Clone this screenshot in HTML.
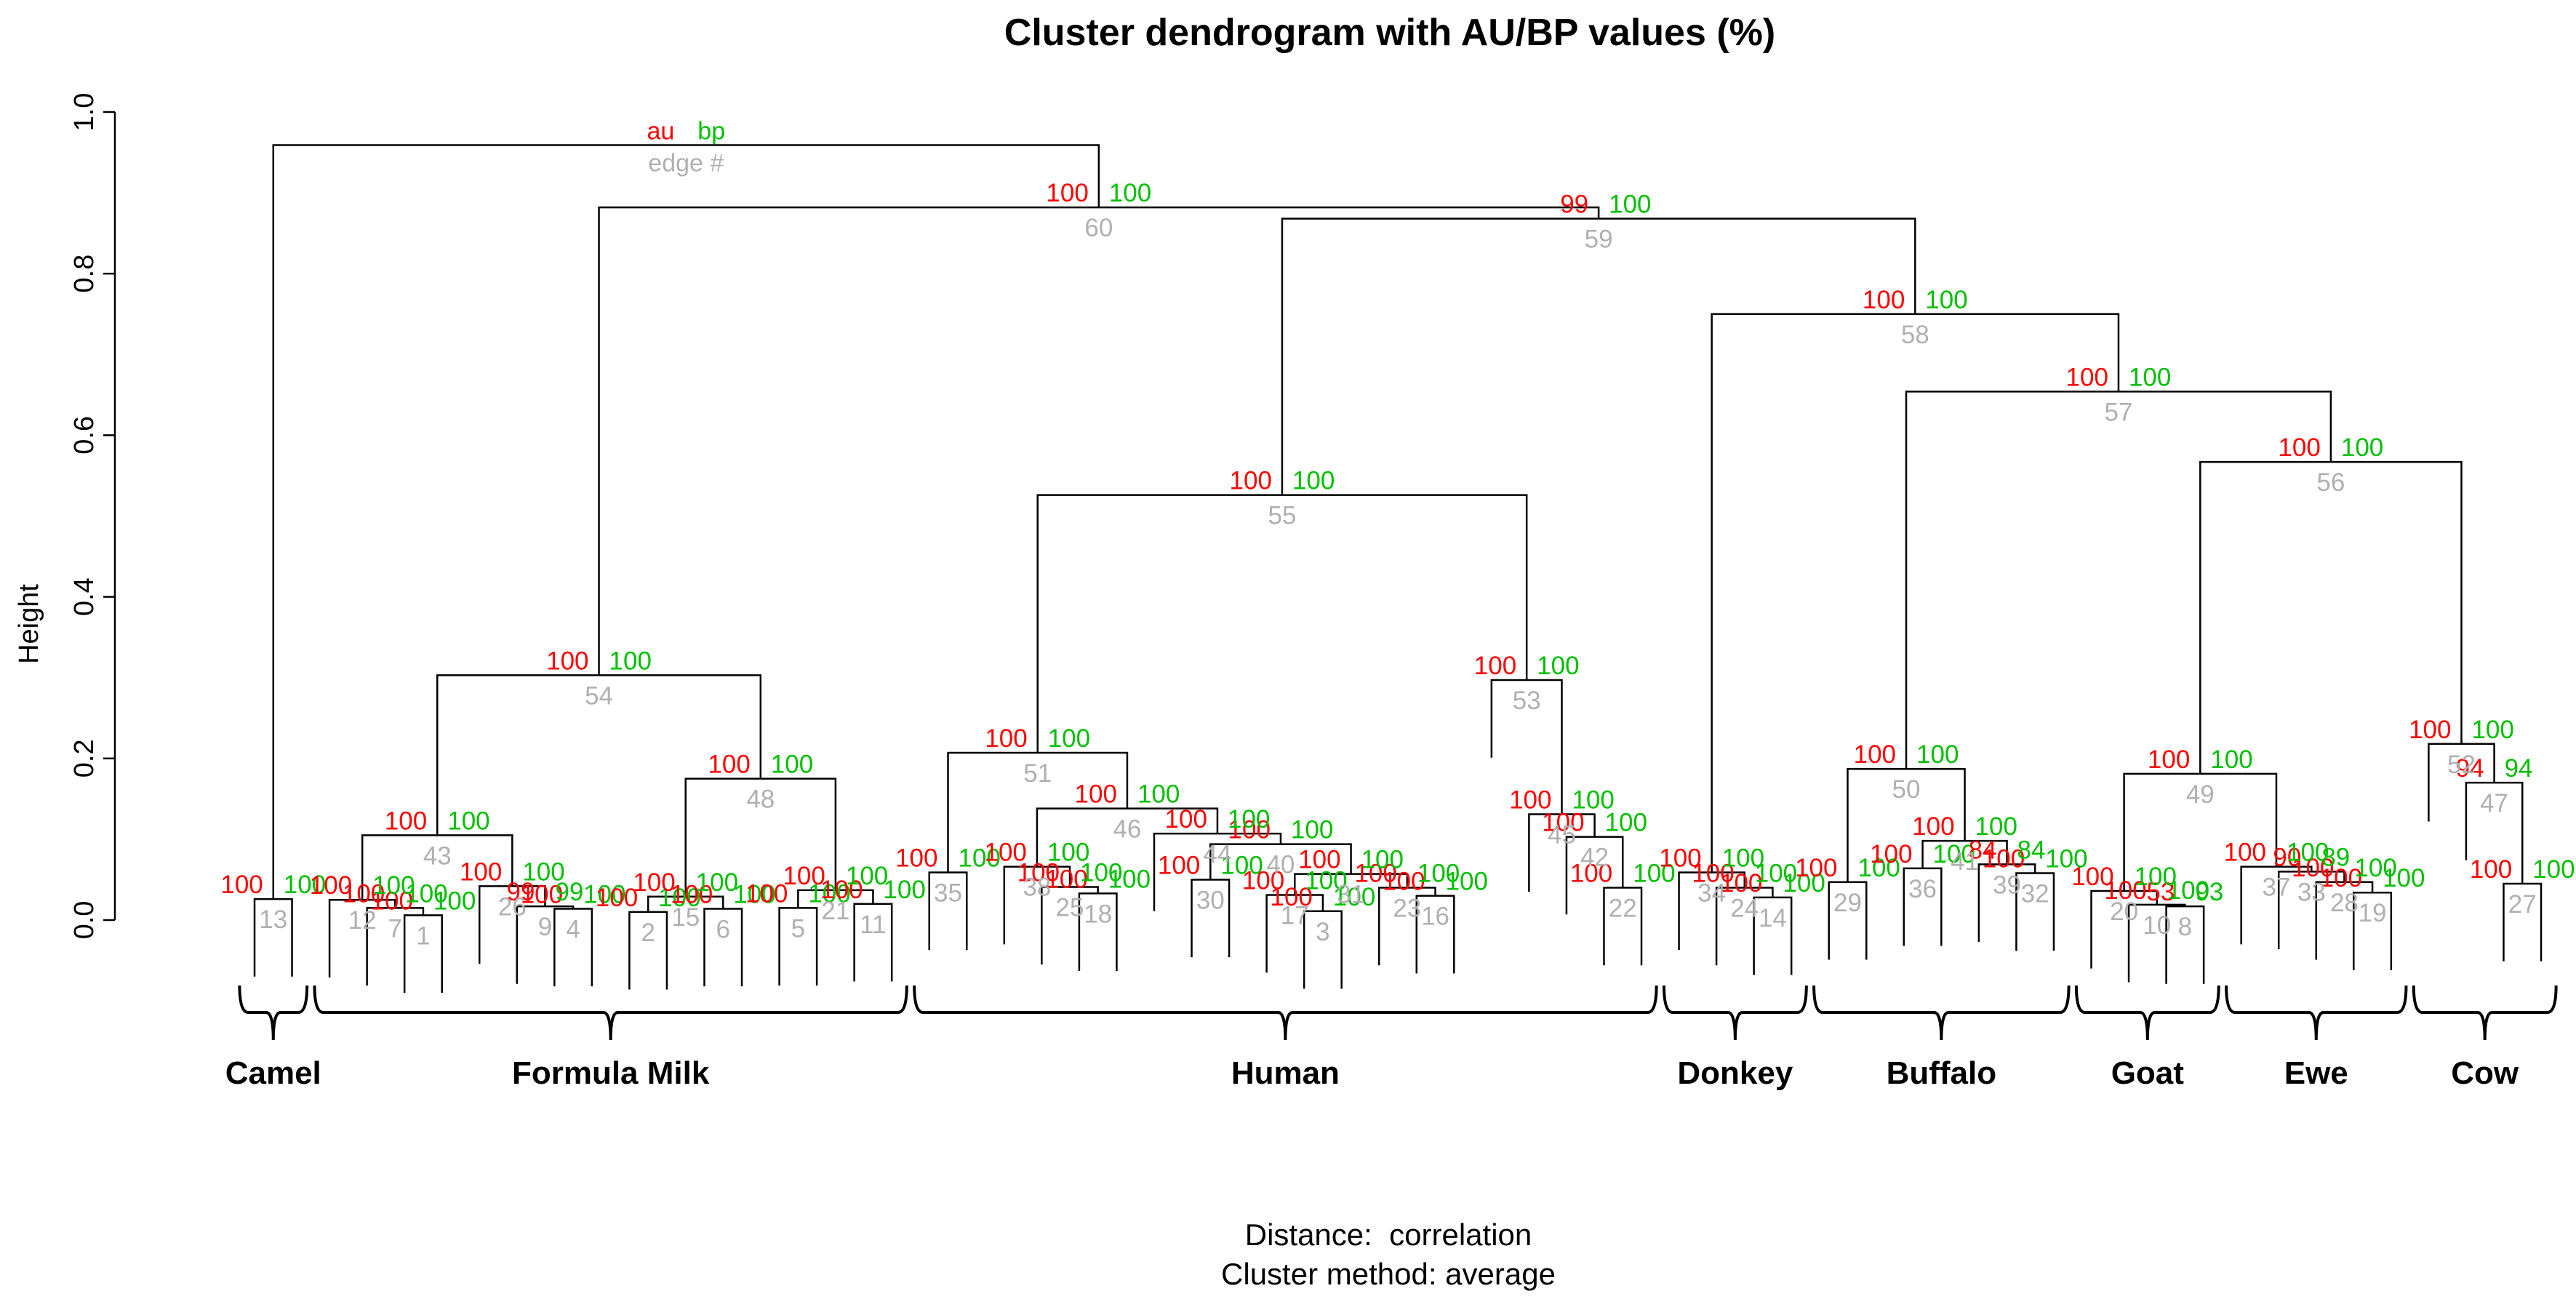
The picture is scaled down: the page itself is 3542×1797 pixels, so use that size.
<!DOCTYPE html>
<html><head><meta charset="utf-8"><style>
html,body{margin:0;padding:0;background:#fff;}
svg{display:block;}
text{font-family:"Liberation Sans",sans-serif;}
.grp{font-family:"Liberation Sans",sans-serif;font-weight:bold;font-size:44px;}
</style></head><body>
<svg id="chart" width="3542" height="1797" viewBox="0 0 3542 1797" xmlns="http://www.w3.org/2000/svg">
<rect width="3542" height="1797" fill="#fff"/>
<text x="1911" y="62" text-anchor="middle" font-size="52" font-weight="bold">Cluster dendrogram with AU/BP values (%)</text>
<text transform="translate(52,858) rotate(-90)" text-anchor="middle" font-size="38">Height</text>
<text x="1909" y="1712" text-anchor="middle" font-size="42" xml:space="preserve">Distance:  correlation</text>
<text x="1909" y="1766" text-anchor="middle" font-size="42">Cluster method: average</text>
<g id="axis"></g>
<g id="tree"></g>
<g id="labels"></g>
<g id="groups"></g>
</svg>
<script>
// merge height between adjacent leaves i and i+1 (62 leaves -> 61 gaps)
const gapHeights = [0.026,0.959,0.025,0.015,0.006,0.105,0.042,0.017,0.014,0.303,
0.010,0.029,0.014,0.175,0.015,0.037,0.020,0.882,0.059,0.207,
0.066,0.041,0.033,0.138,0.107,0.050,0.094,0.031,0.011,0.057,
0.040,0.030,0.526,0.297,0.131,0.103,0.040,0.868,0.059,0.040,
0.028,0.750,0.047,0.187,0.064,0.098,0.069,0.058,0.654,0.036,
0.019,0.017,0.181,0.066,0.060,0.047,0.034,0.567,0.218,0.170,0.045];
const edgeIds = [13,61,12,7,1,43,26,9,4,54,2,15,6,48,5,21,11,60,35,51,
38,25,18,46,44,30,40,17,3,31,23,16,55,53,45,42,22,59,34,24,
14,58,29,50,36,41,39,32,57,20,10,8,49,37,33,28,19,56,52,47,27];
const auVals = [100,0,100,100,100,100,100,99,100,100,100,100,100,100,100,100,100,100,100,100,
100,100,100,100,100,100,100,100,100,100,100,100,100,100,100,100,100,99,100,100,
100,100,100,100,100,100,84,100,100,100,100,53,100,100,90,100,100,100,100,94,100];
const bpVals = [100,0,100,100,100,100,100,99,100,100,100,100,100,100,100,100,100,100,100,100,
100,100,100,100,100,100,100,100,100,100,100,100,100,100,100,100,100,100,100,100,
100,100,100,100,100,100,84,100,100,100,100,93,100,100,89,100,100,100,100,94,100];
const groupNames = ["Camel","Formula Milk","Human","Donkey","Buffalo","Goat","Ewe","Cow"];
const groupStart = [0,2,18,38,42,49,53,58];
const groupEnd = [1,17,37,41,48,52,57,61];
const yTicks = [0.0,0.2,0.4,0.6,0.8,1.0];

const NS="http://www.w3.org/2000/svg";
const nLeaves = gapHeights.length+1;
const X0=350, X1=3494, Y0=1265, Y1=154;
const xs = i => X0 + (X1-X0)*i/(nLeaves-1);
const ys = h => Y0 - (Y0-Y1)*h;
const hang = 0.096;
function mk(tag, attrs, parent){const e=document.createElementNS(NS,tag);for(const k in attrs)e.setAttribute(k,attrs[k]);parent.appendChild(e);return e;}
const axis=document.getElementById('axis'), tree=document.getElementById('tree'), lab=document.getElementById('labels'), grp=document.getElementById('groups');

const ax=mk('line',{x1:158,x2:158,y1:ys(0),y2:ys(1),stroke:'#000','stroke-width':2.5},axis);


yTicks.forEach(t=>{
  const tk=mk('line',{x1:142,x2:158,y1:ys(t),y2:ys(t),stroke:'#000','stroke-width':2.5},axis);
  
  
  const tl=mk('text',{transform:`translate(128,${ys(t)}) rotate(-90)`,'text-anchor':'middle','font-size':38},axis);
  
  
  tl.textContent=t.toFixed(1);
});

function build(a,b){
  if(a===b) return {x:xs(a),h:null};
  let k=a;for(let i=a;i<b;i++) if(gapHeights[i]>gapHeights[k]) k=i;
  const L=build(a,k), R=build(k+1,b), h=gapHeights[k], y=ys(h);
  const yl = L.h===null ? ys(h-hang) : ys(L.h);
  const yr = R.h===null ? ys(h-hang) : ys(R.h);
  const p=mk('path',{d:`M${L.x},${yl}V${y}H${R.x}V${yr}`,fill:'none',stroke:'#000','stroke-width':2.5},tree);
  
  
  const x=(L.x+R.x)/2;
  if(k===1){
    const t1=mk('text',{x:x-16,y:y-8,'text-anchor':'end','font-size':34,fill:'#ff0000'},lab);t1.textContent='au';
    
    
    const t2=mk('text',{x:x+16,y:y-8,'font-size':34,fill:'#00c000'},lab);t2.textContent='bp';
    
    
    const t3=mk('text',{x:x,y:y+36,'text-anchor':'middle','font-size':34,fill:'#b0b0b0'},lab);t3.textContent='edge #';
    
    
  } else {
    const t1=mk('text',{x:x-14,y:y-8,'text-anchor':'end','font-size':35,fill:'#ff0000'},lab);t1.textContent=auVals[k];
    
    
    const t2=mk('text',{x:x+14,y:y-8,'font-size':35,fill:'#00c000'},lab);t2.textContent=bpVals[k];
    
    
    const t3=mk('text',{x:x,y:y+40,'text-anchor':'middle','font-size':35,fill:'#b0b0b0'},lab);t3.textContent=edgeIds[k];
    
    
  }
  return {x:x,h:h};
}
build(0,nLeaves-1);

const sp=(X1-X0)/(nLeaves-1);
groupNames.forEach((n,i)=>{
  const a=xs(groupStart[i])-sp*0.4, b=xs(groupEnd[i])+sp*0.4, m=(a+b)/2;
  const top=1355, base=1392, tip=1430;
  const br=mk('path',{d:`M${a},${top} Q${a},${base} ${a+12},${base} L${m-10},${base} Q${m},${base} ${m},${tip} Q${m},${base} ${m+10},${base} L${b-12},${base} Q${b},${base} ${b},${top}`,fill:'none',stroke:'#000','stroke-width':4},grp);
  
  
  const t=mk('text',{x:m,y:1490,'text-anchor':'middle',class:'grp'},grp);
  
  
  t.textContent=n;
});
</script>
</body></html>
